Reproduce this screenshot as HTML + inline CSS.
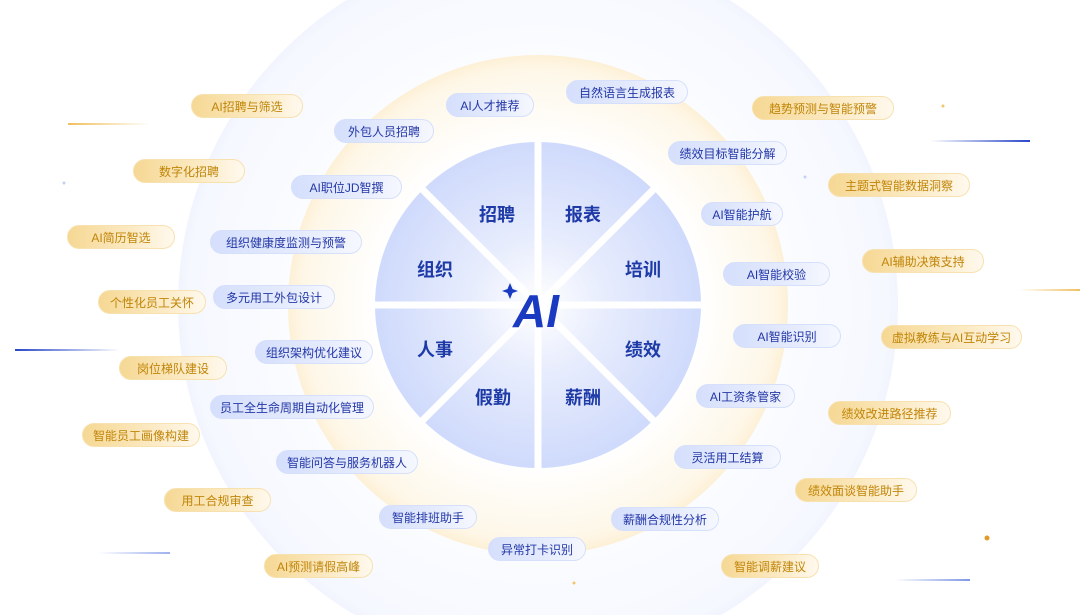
<!DOCTYPE html>
<html><head><meta charset="utf-8"><style>
html,body{margin:0;padding:0;background:#fff;width:1080px;height:615px;overflow:hidden;position:relative;font-family:"Liberation Sans","Noto Sans CJK SC",sans-serif}
svg{display:block}
.p{position:absolute;height:24px;line-height:24px;border-radius:13px;font-size:12px;text-align:center;white-space:nowrap;box-sizing:border-box}
.g{background:linear-gradient(90deg,#f6d894,#fbeac4 60%,#fff9ee);color:#c08508;border:1px solid #f7e1ae}
.b{background:linear-gradient(90deg,#d5dffc,#e6ecfd 60%,#f6f8ff);color:#2337a6;border:1px solid #d6e0fb}
.ln{position:absolute;height:2px}
</style></head><body>
<svg width="1080" height="615" style="position:absolute;left:0;top:0;overflow:hidden">
<defs>
<radialGradient id="bg" cx="538" cy="305" r="360" gradientUnits="userSpaceOnUse">
<stop offset="0.6" stop-color="#fcfdff"/><stop offset="0.97" stop-color="#f6f8ff"/><stop offset="1" stop-color="#f1f4fe"/></radialGradient>
<radialGradient id="gd" cx="538" cy="305" r="250" gradientUnits="userSpaceOnUse">
<stop offset="0.65" stop-color="#fff"/><stop offset="0.94" stop-color="#fef7e8"/><stop offset="1" stop-color="#fdf0d6"/></radialGradient>
<radialGradient id="pie" cx="538" cy="305" r="163" gradientUnits="userSpaceOnUse">
<stop offset="0" stop-color="#ffffff"/><stop offset="0.4" stop-color="#e8edfd"/><stop offset="1" stop-color="#cfdafc"/></radialGradient>
</defs>
<circle cx="538" cy="305" r="360" fill="url(#bg)"/>
<circle cx="538" cy="305" r="250" fill="url(#gd)"/>
<circle cx="538" cy="305" r="163" fill="url(#pie)"/>
<g stroke="#fff" stroke-width="7">
<line x1="370" y1="305" x2="706" y2="305"/><line x1="538" y1="137" x2="538" y2="473"/>
<line x1="419" y1="186" x2="657" y2="424"/><line x1="657" y1="186" x2="419" y2="424"/>
</g>
<g font-size="18" fill="#1d3aa6" text-anchor="middle" font-weight="bold" font-family="Liberation Sans,Noto Sans CJK SC,sans-serif">
<text x="497" y="221">招聘</text><text x="583" y="221">报表</text><text x="643" y="276">培训</text><text x="643" y="356">绩效</text>
<text x="583" y="404">薪酬</text><text x="493" y="404">假勤</text><text x="435" y="356">人事</text><text x="435" y="276">组织</text>
</g>
<text x="513" y="327" font-size="46" font-weight="bold" font-style="italic" fill="#1a3bc1" font-family="Liberation Sans,sans-serif">AI</text>
<path d="M510 283 L512.5 289 L518 291 L512.5 293 L510 299 L507.5 293 L502 291 L507.5 289Z" fill="#1a3bc1"/>
<circle cx="943" cy="106" r="1.5" fill="#f1c56a"/><circle cx="987" cy="538" r="2.5" fill="#e29a2a"/>
<circle cx="805" cy="177" r="1.5" fill="#c5d0f5"/><circle cx="64" cy="183" r="1.5" fill="#c5d0f5"/>
<circle cx="574" cy="583" r="1.5" fill="#f1c56a"/>
</svg>
<div class="ln" style="left:68px;top:123px;width:82px;background:linear-gradient(90deg,#f0c060,#fff)"></div>
<div class="ln" style="left:15px;top:349px;width:105px;background:linear-gradient(90deg,#2a48c8,#fff)"></div>
<div class="ln" style="left:930px;top:140px;width:100px;background:linear-gradient(90deg,#fff,#2a48c8)"></div>
<div class="ln" style="left:1020px;top:289px;width:60px;background:linear-gradient(90deg,#fff,#f0c060)"></div>
<div class="ln" style="left:895px;top:579px;width:75px;background:linear-gradient(90deg,#fff,#7f97e6)"></div>
<div class="ln" style="left:98px;top:552px;width:72px;background:linear-gradient(90deg,#fff,#9fb0ee)"></div>

<div class="p g" style="left:191px;top:94px;width:112px">AI招聘与筛选</div>
<div class="p g" style="left:133px;top:159px;width:112px">数字化招聘</div>
<div class="p g" style="left:67px;top:225px;width:108px">AI简历智选</div>
<div class="p g" style="left:98px;top:290px;width:108px">个性化员工关怀</div>
<div class="p g" style="left:119px;top:356px;width:108px">岗位梯队建设</div>
<div class="p g" style="left:82px;top:423px;width:118px">智能员工画像构建</div>
<div class="p g" style="left:164px;top:488px;width:107px">用工合规审查</div>
<div class="p g" style="left:264px;top:554px;width:109px">AI预测请假高峰</div>
<div class="p g" style="left:752px;top:96px;width:142px">趋势预测与智能预警</div>
<div class="p g" style="left:828px;top:173px;width:142px">主题式智能数据洞察</div>
<div class="p g" style="left:862px;top:249px;width:122px">AI辅助决策支持</div>
<div class="p g" style="left:881px;top:325px;width:141px">虚拟教练与AI互动学习</div>
<div class="p g" style="left:828px;top:401px;width:123px">绩效改进路径推荐</div>
<div class="p g" style="left:795px;top:478px;width:122px">绩效面谈智能助手</div>
<div class="p g" style="left:721px;top:554px;width:98px">智能调薪建议</div>

<div class="p b" style="left:446px;top:93px;width:88px">AI人才推荐</div>
<div class="p b" style="left:566px;top:80px;width:122px">自然语言生成报表</div>
<div class="p b" style="left:334px;top:119px;width:100px">外包人员招聘</div>
<div class="p b" style="left:668px;top:141px;width:119px">绩效目标智能分解</div>
<div class="p b" style="left:291px;top:175px;width:111px">AI职位JD智撰</div>
<div class="p b" style="left:701px;top:202px;width:82px">AI智能护航</div>
<div class="p b" style="left:210px;top:230px;width:152px">组织健康度监测与预警</div>
<div class="p b" style="left:723px;top:262px;width:107px">AI智能校验</div>
<div class="p b" style="left:213px;top:285px;width:122px">多元用工外包设计</div>
<div class="p b" style="left:733px;top:324px;width:108px">AI智能识别</div>
<div class="p b" style="left:255px;top:340px;width:118px">组织架构优化建议</div>
<div class="p b" style="left:696px;top:384px;width:99px">AI工资条管家</div>
<div class="p b" style="left:210px;top:395px;width:164px">员工全生命周期自动化管理</div>
<div class="p b" style="left:276px;top:450px;width:142px">智能问答与服务机器人</div>
<div class="p b" style="left:674px;top:445px;width:107px">灵活用工结算</div>
<div class="p b" style="left:379px;top:505px;width:98px">智能排班助手</div>
<div class="p b" style="left:611px;top:507px;width:108px">薪酬合规性分析</div>
<div class="p b" style="left:488px;top:537px;width:98px">异常打卡识别</div>
</body></html>
